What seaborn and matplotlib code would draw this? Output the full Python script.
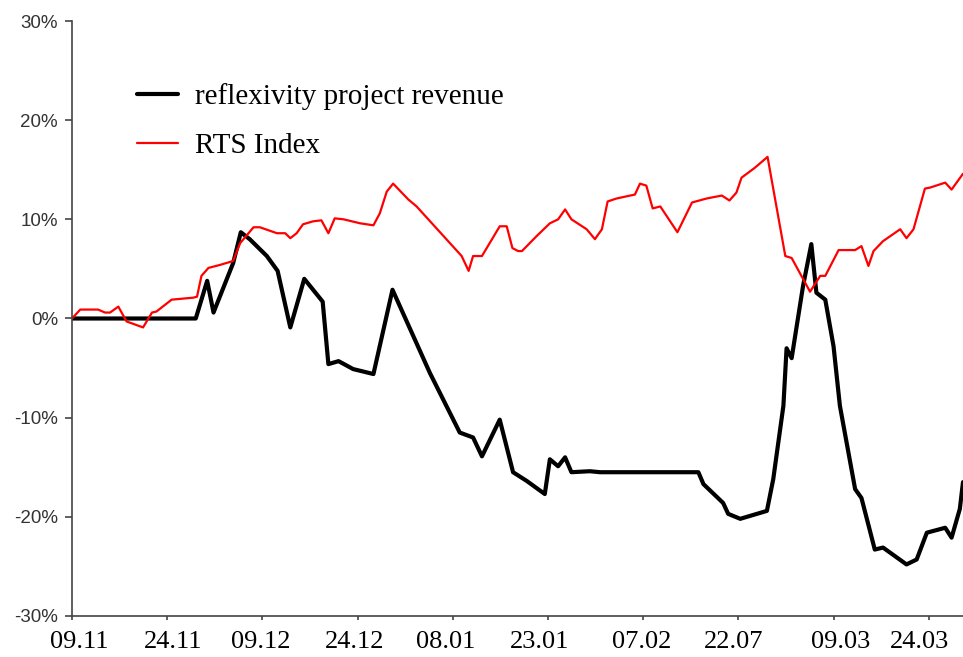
import matplotlib
matplotlib.use("Agg")
import matplotlib.pyplot as plt
import numpy as np
import pandas as pd
import seaborn as sns

# days since 09.11 and % change
revenue_days = [0, 19.5, 21.3, 22.3, 25.4, 26.6, 28.0, 30.7, 32.4, 34.4, 36.6, 39.5,
                40.4, 42.0, 44.3, 47.5, 50.5, 56.4, 61.1, 63.2, 64.6, 67.4, 69.5,
                71.7, 74.5, 75.3, 76.6, 77.7, 78.7, 81.6, 83.2, 98.7, 99.5, 102.6,
                103.4, 105.3, 109.5, 110.5, 112.1, 112.6, 113.4, 115.2, 116.5,
                117.3, 118.7, 120.0, 121.0, 123.4, 124.4, 126.5, 127.8, 131.5,
                133.1, 134.7, 137.6, 138.6, 139.9, 140.4]
revenue_pct = [0, 0, 3.8, 0.6, 5.6, 8.7, 8.0, 6.3, 4.8, -0.9, 4.0, 1.7,
               -4.6, -4.3, -5.1, -5.6, 2.9, -5.5, -11.5, -12.0, -13.9, -10.2, -15.5,
               -16.4, -17.7, -14.2, -14.9, -14.0, -15.5, -15.4, -15.5, -15.5, -16.7, -18.6,
               -19.7, -20.2, -19.4, -16.2, -8.8, -3.0, -4.0, 3.3, 7.5,
               2.6, 1.9, -2.8, -8.8, -17.2, -18.1, -23.3, -23.1, -24.8,
               -24.3, -21.6, -21.1, -22.1, -19.2, -16.5]

rts_days = [0, 1.3, 4.1, 5.2, 6.0, 7.3, 8.6, 11.2, 12.6, 13.3, 15.7, 19.1, 19.7,
            20.4, 21.5, 23.3, 25.4, 26.5, 28.6, 29.6, 32.3, 33.6, 34.4, 35.4, 36.4,
            38.0, 39.3, 40.4, 41.4, 42.8, 45.4, 47.5, 48.5, 49.6, 50.6, 53.0, 54.3,
            61.4, 62.5, 63.2, 64.6, 67.4, 68.5, 69.4, 70.3, 70.9, 73.2, 75.3, 76.6,
            77.7, 78.7, 81.1, 82.4, 83.5, 84.4, 85.8, 88.7, 89.5, 90.5, 91.5, 92.7,
            95.4, 97.7, 100.0, 102.4, 103.6, 104.7, 105.5, 107.6, 109.6, 112.4,
            113.4, 116.3, 117.9, 118.7, 120.8, 123.4, 124.4, 125.5, 126.3, 127.8,
            130.5, 131.5, 132.6, 134.4, 135.2, 137.6, 138.6, 140.4]
rts_pct = [0, 0.9, 0.9, 0.6, 0.6, 1.2, -0.3, -0.9, 0.6, 0.7, 1.9, 2.1, 2.2,
           4.3, 5.1, 5.4, 5.8, 7.6, 9.2, 9.2, 8.6, 8.6, 8.1, 8.6, 9.5,
           9.8, 9.9, 8.6, 10.1, 10.0, 9.6, 9.4, 10.6, 12.8, 13.6, 12.0, 11.3,
           6.3, 4.8, 6.3, 6.3, 9.3, 9.3, 7.1, 6.8, 6.8, 8.3, 9.6, 10.0,
           11.0, 10.0, 9.0, 8.0, 9.0, 11.8, 12.1, 12.5, 13.6, 13.4, 11.1, 11.3,
           8.7, 11.7, 12.1, 12.4, 11.9, 12.7, 14.2, 15.2, 16.3, 6.3,
           6.1, 2.7, 4.3, 4.3, 6.9, 6.9, 7.3, 5.3, 6.8, 7.8,
           9.0, 8.1, 9.0, 13.1, 13.2, 13.7, 13.0, 14.6]

x_ticks = [0, 15, 30, 45, 60, 75, 90, 105, 120, 135]
x_labels = ['09.11', '24.11', '09.12', '24.12', '08.01', '23.01', '07.02', '22.07', '09.03', '24.03']
y_ticks = [-30, -20, -10, 0, 10, 20, 30]
y_labels = ['-30%', '-20%', '-10%', '0%', '10%', '20%', '30%']

df_rev = pd.DataFrame({'day': revenue_days, 'pct': revenue_pct})
df_rts = pd.DataFrame({'day': rts_days, 'pct': rts_pct})

sns.set_style("ticks")
plt.rcParams['font.family'] = ['Liberation Serif', 'DejaVu Serif']
plt.rcParams['text.color'] = 'black'

fig = plt.figure(figsize=(9.63, 6.57), dpi=100)
ax = fig.add_axes([72 / 963, 1 - 616 / 657, 1 - 72 / 963, (616 - 21) / 657])

sns.lineplot(data=df_rev, x='day', y='pct', color='black', linewidth=3.0,
             label='reflexivity project revenue', ax=ax, sort=False)
sns.lineplot(data=df_rts, x='day', y='pct', color='#ff0000', linewidth=1.6,
             label='RTS Index', ax=ax, sort=False)

ax.set_xlim(0, 140.4)
ax.set_ylim(-30, 30)

# tick marks on the major ticks, the date labels (slightly off the ticks,
# as in the original) on unmarked minor ticks
shift_px = [7, 6, -2, -3, -7, -8, -1, -5, 7, -9]
day_px = 856.7 / 135
ax.set_xticks(x_ticks)
ax.set_xticklabels([])
ax.set_xticks([t + s / day_px for t, s in zip(x_ticks, shift_px)], minor=True)
ax.set_xticklabels(x_labels, minor=True, fontsize=19, color='black')

ax.set_yticks(y_ticks)
ax.set_yticklabels(y_labels, fontsize=13.5, family='Liberation Sans', color='#333333')
ax.set_xlabel('')
ax.set_ylabel('')

for side in ['top', 'right']:
    ax.spines[side].set_visible(False)
for side in ['left', 'bottom']:
    ax.spines[side].set_color('#444444')
    ax.spines[side].set_linewidth(1.2)
ax.tick_params(axis='y', length=5, width=1.2, color='#444444', pad=5)
ax.tick_params(axis='x', which='major', length=3, width=1.2, color='#444444')
ax.tick_params(axis='x', which='minor', length=0, pad=11)

leg = ax.legend(loc='upper left', bbox_to_anchor=(137 / 963, 1 - 83 / 657),
                bbox_transform=fig.transFigure, frameon=False, fontsize=21,
                handlelength=1.4, handletextpad=0.6, labelspacing=0.78,
                borderpad=0, borderaxespad=0)
for t in leg.get_texts():
    t.set_color('black')

fig.savefig('out.png', dpi=100)
